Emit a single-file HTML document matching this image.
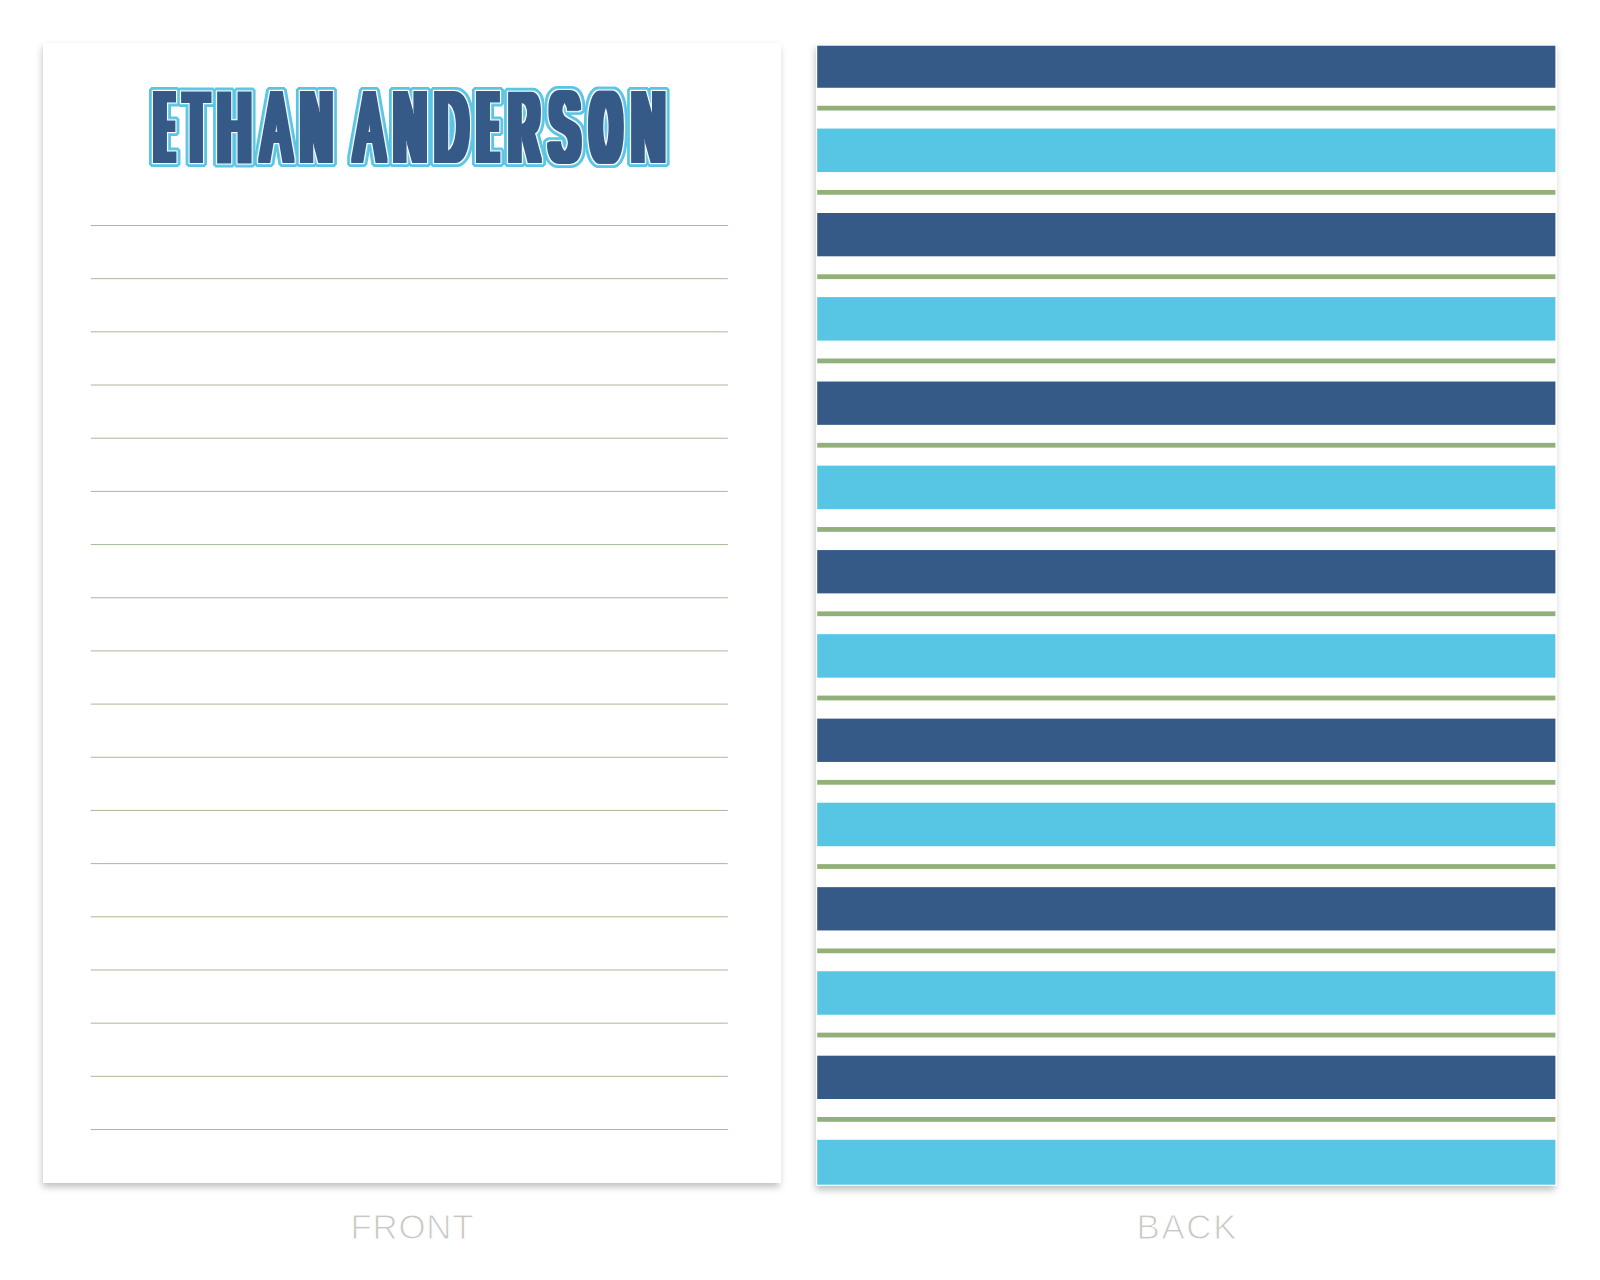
<!DOCTYPE html>
<html lang="en">
<head>
<meta charset="utf-8">
<title>ETHAN ANDERSON notepad - FRONT and BACK</title>
<style>
html,body{margin:0;padding:0;background:#fff;}
body{width:1600px;height:1280px;position:relative;overflow:hidden;font-family:"Liberation Sans",sans-serif;}
.card{position:absolute;background:#fff;box-shadow:-1.5px 4px 7px rgba(0,0,0,.25);}
.front{left:43px;top:43px;width:738.2px;height:1140.2px;}
.back{left:816px;top:44px;width:741px;height:1142px;}
.back svg{display:block;width:100%;height:100%;}
.name{position:absolute;left:0;top:0;width:738px;height:200px;box-sizing:border-box;margin:0;padding:34.70px 0 0 109.5px;font:normal 0/0 "Liberation Sans",sans-serif;color:#000;filter:url(#nameOutline);white-space:nowrap;}
.name span{display:inline-block;vertical-align:top;height:98.11px;font-size:98.11px;line-height:1;}
.name b{display:inline-block;transform-origin:0 0;font-weight:normal;}
.d4{filter:url(#d4);}.d5{filter:url(#d5);}.d6{filter:url(#d6);}
.rules{position:absolute;left:0;top:0;}.rules svg{display:block;}
.label{position:absolute;top:1208px;height:38px;line-height:38px;font-size:34.9px;color:#c9c7c3;letter-spacing:.5px;-webkit-text-stroke:1px #fff;white-space:nowrap;}
</style>
</head>
<body>
<svg width="0" height="0" style="position:absolute" aria-hidden="true">
<filter id="d4" x="-40%" y="-10%" width="180%" height="120%"><feMorphology operator="dilate" radius="4 2"/></filter>
<filter id="d5" x="-40%" y="-10%" width="180%" height="120%"><feMorphology operator="dilate" radius="5 2"/></filter>
<filter id="d6" x="-40%" y="-10%" width="180%" height="120%"><feMorphology operator="dilate" radius="6 2"/></filter>
<filter id="nameOutline" filterUnits="userSpaceOnUse" x="0" y="0" width="738" height="200" color-interpolation-filters="sRGB">
<feMorphology in="SourceAlpha" operator="dilate" radius="1" result="w1"/>
<feMorphology in="SourceAlpha" operator="dilate" radius="2 1" result="w2a"/>
<feMorphology in="SourceAlpha" operator="dilate" radius="1 2" result="w2b"/>
<feMorphology in="SourceAlpha" operator="dilate" radius="4 2" result="c1"/>
<feMorphology in="SourceAlpha" operator="dilate" radius="3 3" result="c2"/>
<feMorphology in="SourceAlpha" operator="dilate" radius="2 4" result="c3"/>
<feMerge result="c"><feMergeNode in="c1"/><feMergeNode in="c2"/><feMergeNode in="c3"/></feMerge>
<feMerge result="w2"><feMergeNode in="w2a"/><feMergeNode in="w2b"/></feMerge>
<feFlood flood-color="#57c5e3"/><feComposite in2="c" operator="in" result="cyan"/>
<feFlood flood-color="#ffffff" flood-opacity=".22"/><feComposite in2="w2" operator="in" result="white2"/>
<feFlood flood-color="#ffffff"/><feComposite in2="w1" operator="in" result="white1"/>
<feFlood flood-color="#355a87"/><feComposite in2="SourceAlpha" operator="in" result="navy"/>
<feMerge><feMergeNode in="cyan"/><feMergeNode in="white2"/><feMergeNode in="white1"/><feMergeNode in="navy"/></feMerge>
</filter>
</svg>
<div class="card front">
<h1 class="name" aria-label="ETHAN ANDERSON"><span class="d6" style="width:28.5px"><b style="transform:translateX(4.26px) scaleX(0.2163)">E</b></span><span class="d5" style="width:36.0px"><b style="transform:translateX(4.19px) scaleX(0.3695)">T</b></span><span class="d5" style="width:40.5px"><b style="transform:translateX(1.40px) scaleX(0.4471)">H</b></span><span class="d4" style="width:42.5px"><b style="transform:translateX(3.92px) scaleX(0.4381)">A</b></span><span class="d5" style="width:50.5px"><b style="transform:translateX(1.62px) scaleX(0.4197)">N</b></span> <span class="d4" style="width:42.5px"><b style="transform:translateX(3.92px) scaleX(0.4381)">A</b></span><span class="d5" style="width:40.5px"><b style="transform:translateX(1.48px) scaleX(0.4379)">N</b></span><span class="d5" style="width:42.0px"><b style="transform:translateX(1.40px) scaleX(0.4474)">D</b></span><span class="d6" style="width:32.0px"><b style="transform:translateX(4.11px) scaleX(0.2351)">E</b></span><span class="d5" style="width:39.5px"><b style="transform:translateX(1.68px) scaleX(0.4120)">R</b></span><span class="d5" style="width:41.0px"><b style="transform:translateX(3.03px) scaleX(0.4426)">S</b></span><span class="d6" style="width:42.5px"><b style="transform:translateX(4.33px) scaleX(0.3584)">O</b></span><span class="d5" style="width:44.5px"><b style="transform:translateX(1.40px) scaleX(0.4471)">N</b></span></h1>
<div class="rules"><svg width="738" height="1140" fill="#a7ba97"><rect x="47.8" y="182.00" width="637" height="1"/><rect x="47.8" y="235.18" width="637" height="1"/><rect x="47.8" y="288.35" width="637" height="1"/><rect x="47.8" y="341.53" width="637" height="1"/><rect x="47.8" y="394.71" width="637" height="1"/><rect x="47.8" y="447.88" width="637" height="1"/><rect x="47.8" y="501.06" width="637" height="1"/><rect x="47.8" y="554.24" width="637" height="1"/><rect x="47.8" y="607.41" width="637" height="1"/><rect x="47.8" y="660.59" width="637" height="1"/><rect x="47.8" y="713.76" width="637" height="1"/><rect x="47.8" y="766.94" width="637" height="1"/><rect x="47.8" y="820.12" width="637" height="1"/><rect x="47.8" y="873.29" width="637" height="1"/><rect x="47.8" y="926.47" width="637" height="1"/><rect x="47.8" y="979.65" width="637" height="1"/><rect x="47.8" y="1032.82" width="637" height="1"/><rect x="47.8" y="1086.00" width="637" height="1"/></svg></div>
</div>
<div class="card back">
<svg width="741" height="1142"><rect x="1.2" y="1.70" width="738.2" height="42.06" fill="#355a87"/><rect x="1.2" y="61.76" width="738.2" height="4.80" fill="#92b17a"/><rect x="1.2" y="84.56" width="738.2" height="43.50" fill="#57c6e4"/><rect x="1.2" y="145.96" width="738.2" height="4.80" fill="#92b17a"/><rect x="1.2" y="169.00" width="738.2" height="43.30" fill="#355a87"/><rect x="1.2" y="230.30" width="738.2" height="4.80" fill="#92b17a"/><rect x="1.2" y="253.10" width="738.2" height="43.50" fill="#57c6e4"/><rect x="1.2" y="314.50" width="738.2" height="4.80" fill="#92b17a"/><rect x="1.2" y="337.54" width="738.2" height="43.30" fill="#355a87"/><rect x="1.2" y="398.84" width="738.2" height="4.80" fill="#92b17a"/><rect x="1.2" y="421.64" width="738.2" height="43.50" fill="#57c6e4"/><rect x="1.2" y="483.04" width="738.2" height="4.80" fill="#92b17a"/><rect x="1.2" y="506.08" width="738.2" height="43.30" fill="#355a87"/><rect x="1.2" y="567.38" width="738.2" height="4.80" fill="#92b17a"/><rect x="1.2" y="590.18" width="738.2" height="43.50" fill="#57c6e4"/><rect x="1.2" y="651.58" width="738.2" height="4.80" fill="#92b17a"/><rect x="1.2" y="674.62" width="738.2" height="43.30" fill="#355a87"/><rect x="1.2" y="735.92" width="738.2" height="4.80" fill="#92b17a"/><rect x="1.2" y="758.72" width="738.2" height="43.50" fill="#57c6e4"/><rect x="1.2" y="820.12" width="738.2" height="4.80" fill="#92b17a"/><rect x="1.2" y="843.16" width="738.2" height="43.30" fill="#355a87"/><rect x="1.2" y="904.46" width="738.2" height="4.80" fill="#92b17a"/><rect x="1.2" y="927.26" width="738.2" height="43.50" fill="#57c6e4"/><rect x="1.2" y="988.66" width="738.2" height="4.80" fill="#92b17a"/><rect x="1.2" y="1011.70" width="738.2" height="43.30" fill="#355a87"/><rect x="1.2" y="1073.00" width="738.2" height="4.80" fill="#92b17a"/><rect x="1.2" y="1095.80" width="738.2" height="44.90" fill="#57c6e4"/></svg>
</div>
<div class="label" style="left:350.6px;letter-spacing:.7px">FRONT</div>
<div class="label" style="left:1136.6px;letter-spacing:1.6px">BACK</div>
</body>
</html>
